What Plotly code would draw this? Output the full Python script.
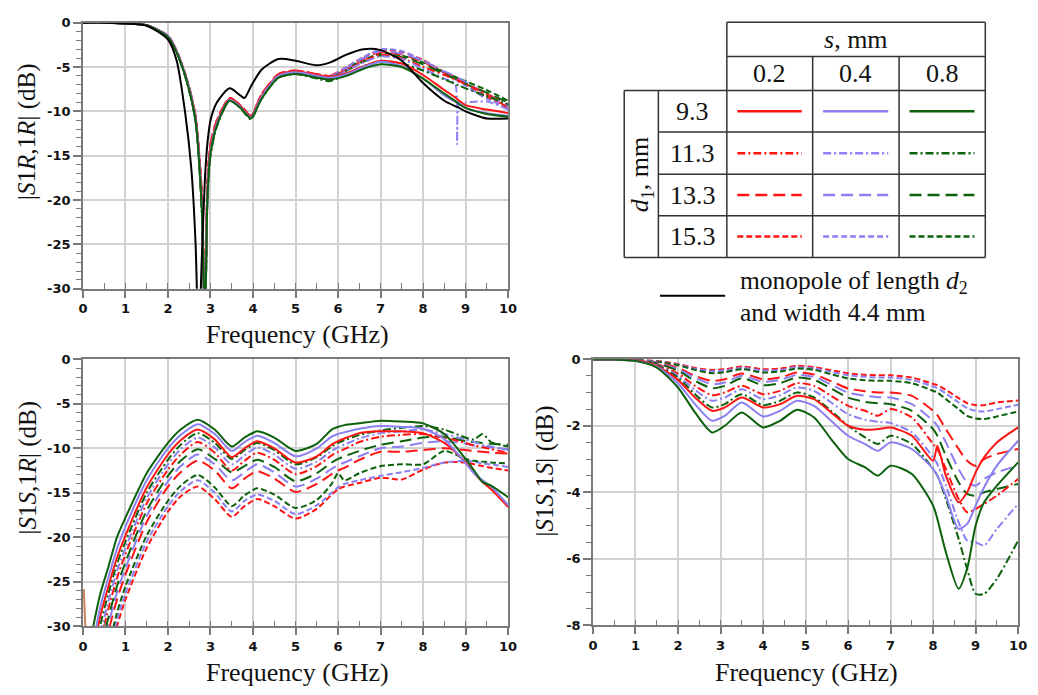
import plotly.graph_objects as go

W, H = 1038, 695

# ---------------- |S1R,1R| (top-left) ----------------
FREQ_A = [0, 0.5, 1, 1.5, 2, 2.2, 2.4, 2.55, 2.65, 2.72, 2.8, 2.87, 2.93, 3.0, 3.15, 3.45,
          3.7, 3.8, 3.95, 4.2, 4.6, 5.0, 5.5, 5.8, 6.2, 6.6, 7.0, 7.5, 8.0, 8.5, 8.75, 8.8,
          8.85, 9.0, 9.5, 10]

RR_S02_D93 = [0, 0, -0.1, -0.3, -1.5, -3.2, -5.8, -8.4, -10.8, -14.3, -20.5, -34, -18.5, -14.2, -11.3, -8.6,
              -9.4, -9.9, -10.6, -8.3, -5.9, -5.5, -5.9, -6.1, -5.7, -4.9, -4.3, -4.6, -5.9, -7.6, -8.4, -8.6,
              -8.8, -9.3, -9.8, -10.2]
RR_S04_D93 = [0, 0, -0.1, -0.3, -1.5, -3.2, -5.8, -8.4, -10.9, -14.5, -21, -34, -19, -14.5, -11.4, -8.7,
              -9.5, -10.0, -10.7, -8.4, -6.0, -5.6, -6.0, -6.2, -5.8, -5.0, -4.4, -4.9, -6.3, -8.2, -8.9, -9.0,
              -9.1, -9.6, -10.2, -10.5]
RR_S08_D93 = [0, 0, -0.1, -0.3, -1.6, -3.3, -5.9, -8.6, -11.1, -14.8, -21.5, -34, -19.5, -14.8, -11.6, -8.8,
              -9.6, -10.1, -10.8, -8.6, -6.2, -5.8, -6.2, -6.4, -6.0, -5.2, -4.7, -5.0, -6.3, -8.0, -8.8, -9.0,
              -9.2, -9.6, -10.3, -10.6]
RR_S02_D113 = [0, 0, -0.1, -0.3, -1.5, -3.2, -5.8, -8.3, -10.7, -14.2, -20, -34, -18, -14, -11.2, -8.6,
               -9.4, -9.9, -10.6, -8.2, -5.9, -5.5, -6.0, -6.3, -5.3, -4.4, -3.6, -4.0, -5.0, -5.9, -6.4, -6.5,
               -6.6, -6.9, -8.1, -9.6]
RR_S04_D113 = [0, 0, -0.1, -0.3, -1.5, -3.2, -5.8, -8.4, -10.9, -14.6, -21, -34, -19, -14.6, -11.5, -8.7,
               -9.5, -10.0, -10.8, -8.4, -6.0, -5.6, -6.1, -6.4, -5.4, -4.5, -3.8, -4.1, -5.2, -6.3, -6.9, -13.7,
               -9.0, -9.0, -8.9, -9.8]
RR_S08_D113 = [0, 0, -0.1, -0.3, -1.6, -3.3, -6.0, -8.7, -11.2, -15, -22, -34, -20, -15, -11.7, -8.8,
               -9.6, -10.2, -10.9, -8.6, -6.2, -5.8, -6.3, -6.6, -5.8, -4.9, -4.4, -4.6, -5.4, -6.4, -6.9, -7.0,
               -7.1, -7.4, -8.3, -9.2]
RR_S02_D133 = [0, 0, -0.1, -0.3, -1.5, -3.1, -5.7, -8.2, -10.6, -14, -19.5, -34, -18, -13.8, -11.0, -8.5,
               -9.3, -9.8, -10.5, -8.1, -5.8, -5.4, -5.8, -6.0, -5.2, -4.1, -3.3, -3.6, -4.4, -5.6, -6.1, -6.2,
               -6.4, -6.8, -8.0, -9.3]
RR_S04_D133 = [0, 0, -0.1, -0.3, -1.5, -3.2, -5.8, -8.3, -10.8, -14.2, -20, -34, -18.5, -14.1, -11.2, -8.6,
               -9.4, -9.9, -10.6, -8.2, -5.9, -5.5, -5.9, -6.1, -5.1, -4.0, -3.2, -3.5, -4.3, -5.5, -6.0, -6.1,
               -6.3, -6.7, -8.1, -9.4]
RR_S08_D133 = [0, 0, -0.1, -0.3, -1.6, -3.3, -5.9, -8.5, -11.0, -14.6, -21, -34, -19.5, -14.6, -11.5, -8.7,
               -9.5, -10.0, -10.7, -8.5, -6.1, -5.7, -6.1, -6.3, -5.4, -4.4, -3.7, -3.9, -4.7, -5.8, -6.3, -6.4,
               -6.5, -6.9, -7.9, -9.0]
RR_S02_D153 = [0, 0, -0.1, -0.3, -1.5, -3.1, -5.7, -8.2, -10.6, -13.9, -19.5, -34, -17.5, -13.6, -11.0, -8.5,
               -9.3, -9.8, -10.5, -8.1, -5.8, -5.4, -5.8, -6.0, -5.0, -3.9, -3.1, -3.3, -4.2, -5.6, -6.2, -6.3,
               -6.5, -7.0, -8.4, -9.7]
RR_S04_D153 = [0, 0, -0.1, -0.3, -1.5, -3.2, -5.8, -8.3, -10.7, -14.1, -20, -34, -18, -13.9, -11.1, -8.6,
               -9.4, -9.9, -10.6, -8.2, -5.9, -5.5, -5.9, -6.1, -5.0, -3.9, -3.0, -3.2, -4.3, -5.7, -6.4, -6.5,
               -6.7, -7.1, -8.6, -9.5]
RR_S08_D153 = [0, 0, -0.1, -0.3, -1.6, -3.3, -5.9, -8.5, -10.9, -14.5, -21, -34, -19, -14.4, -11.4, -8.7,
               -9.5, -10.0, -10.7, -8.4, -6.1, -5.7, -6.1, -6.3, -5.2, -4.2, -3.5, -3.7, -4.5, -5.6, -6.1, -6.2,
               -6.3, -6.6, -7.6, -8.8]
RR_MONOPOLE = [0, 0, -0.1, -0.35, -1.9, -4.2, -10, -16.5, -25, -36, -26, -17.5, -13.5, -11, -9.0, -7.4,
               -8.2, -8.5, -7.2, -5.3, -4.1, -4.3, -4.8, -4.5, -3.6, -3.0, -3.1, -4.3, -6.8, -8.8, -9.4, -9.5,
               -9.6, -10.0, -10.8, -10.8]

# ---------------- |S1S,1R| (bottom-left) ----------------
FREQ_B = [0.2, 0.4, 0.6, 0.8, 1.0, 1.5, 2.0, 2.3, 2.7, 3.1, 3.5, 3.8, 4.1, 4.5, 5.0, 5.5, 5.85, 6.0,
          6.15, 6.5, 7.0, 7.5, 8.0, 8.5, 9.0, 9.2, 9.4, 9.6, 10]

SR_S08_D93 = [-31, -26.5, -23.3, -20.0, -17.8, -12.8, -9.4, -7.9, -6.8, -7.9, -9.8, -8.8, -8.1, -8.8, -10.3,
              -9.5, -7.9, -7.6, -7.4, -7.2, -6.9, -7.0, -7.2, -8.4, -11.2, -12.5, -13.8, -14.2, -15.5]
SR_S04_D93 = [-33, -28, -24.5, -21.3, -18.8, -13.6, -10.0, -8.5, -7.3, -8.4, -10.3, -9.3, -8.6, -9.4, -10.9,
              -10.0, -8.7, -8.4, -8.2, -7.8, -7.5, -7.6, -7.8, -9.0, -11.7, -12.8, -13.6, -14.3, -16.4]
SR_S02_D93 = [-34, -29, -25.5, -22.3, -19.8, -14.4, -10.7, -9.1, -7.9, -9.0, -11.0, -10.0, -9.2, -10.0, -11.6,
              -10.9, -9.6, -9.2, -8.9, -8.3, -8.1, -8.1, -8.3, -9.4, -11.6, -12.8, -13.8, -14.6, -16.6]
SR_S08_D113 = [-35, -30, -26.3, -23.0, -20.5, -15.0, -11.3, -9.6, -8.3, -9.4, -11.2, -10.2, -9.4, -10.2, -11.8,
               -11.0, -9.8, -9.4, -9.1, -8.5, -8.0, -7.7, -7.5, -7.9, -8.8, -9.0, -8.4, -9.3, -9.8]
SR_S04_D113 = [-36, -31, -27.2, -23.8, -21.2, -15.6, -11.8, -10.1, -8.8, -9.9, -11.8, -10.8, -9.9, -10.7, -12.3,
               -11.5, -10.3, -9.9, -9.6, -8.9, -8.3, -8.1, -7.9, -8.4, -9.0, -9.3, -9.6, -9.8, -10.2]
SR_S02_D113 = [-37, -32, -28.0, -24.6, -21.9, -16.2, -12.4, -10.7, -9.3, -10.5, -12.5, -11.4, -10.5, -11.3, -12.9,
               -12.0, -10.8, -10.4, -10.1, -9.3, -8.7, -8.5, -8.4, -8.8, -9.4, -9.7, -9.9, -10.1, -10.5]
SR_S08_D133 = [-38, -33, -29.0, -25.5, -22.8, -17.0, -13.1, -11.4, -10.1, -11.2, -12.7, -12.0, -11.3, -12.1, -13.7,
               -12.8, -11.6, -11.2, -10.9, -10.3, -9.6, -9.2, -8.8, -8.7, -9.2, -9.3, -9.4, -9.5, -9.6]
SR_S04_D133 = [-39, -34, -29.8, -26.2, -23.5, -17.6, -13.7, -12.0, -10.7, -11.8, -13.6, -12.7, -11.8, -12.7, -14.3,
               -13.4, -12.3, -11.9, -11.6, -10.9, -10.0, -9.8, -9.4, -9.2, -9.5, -9.7, -9.8, -9.9, -10.1]
SR_S02_D133 = [-40, -35, -30.6, -27.0, -24.2, -18.3, -14.3, -12.7, -11.4, -12.5, -14.5, -13.4, -12.6, -13.4, -14.9,
               -14.0, -12.9, -12.5, -12.2, -11.3, -10.4, -10.4, -10.2, -10.0, -10.2, -10.3, -10.4, -10.5, -10.6]
SR_S08_D153 = [-42, -37, -32.5, -28.5, -25.5, -19.8, -15.9, -14.2, -13.0, -14.4, -16.5, -15.3, -14.5, -15.2, -16.7,
               -15.8, -14.0, -12.8, -13.6, -12.8, -12.0, -11.8, -11.8, -10.3, -11.2, -11.4, -11.5, -11.6, -11.7]
SR_S04_D153 = [-43, -38, -33.3, -29.3, -26.3, -20.5, -16.5, -14.8, -13.6, -15.0, -17.1, -15.9, -15.2, -15.9, -17.4,
               -16.4, -15.0, -14.4, -14.0, -13.6, -13.1, -12.7, -12.2, -11.6, -11.4, -11.5, -11.7, -11.8, -12.1]
SR_S02_D153 = [-44, -39, -34.0, -30.0, -27.0, -21.2, -17.1, -15.4, -14.3, -15.7, -17.7, -16.5, -15.7, -16.5, -17.9,
               -16.8, -15.2, -14.6, -14.3, -13.9, -13.3, -13.5, -12.4, -11.6, -11.6, -11.8, -12.0, -12.2, -12.5]
SR_EDGE_F = [0.02, 0.06]
SR_EDGE_V = [-25.8, -30.5]

# ---------------- |S1S,1S| (bottom-right) ----------------
FREQ_C = [0, 0.5, 1.0, 1.5, 2.0, 2.4, 2.8, 3.1, 3.5, 4.0, 4.4, 4.8, 5.2, 5.6, 6.0, 6.4, 6.7, 7.0,
          7.5, 8.0, 8.1, 8.3, 8.6, 8.8, 9.0, 9.2, 9.5, 10]

SS_S08_D93 = [0, -0.01, -0.05, -0.25, -0.85, -1.6, -2.2, -2.0, -1.6, -2.05, -1.85, -1.52, -1.75, -2.4, -3.0,
              -3.25, -3.5, -3.2, -3.45, -4.4, -4.8, -5.8, -6.9, -6.3, -5.0, -4.3, -3.8, -3.1]
SS_S04_D93 = [0, -0.01, -0.05, -0.22, -0.72, -1.35, -1.85, -1.7, -1.3, -1.72, -1.55, -1.25, -1.4, -1.85, -2.3,
              -2.55, -2.75, -2.5, -2.7, -3.3, -3.5, -4.1, -5.1, -4.95, -4.4, -3.85, -3.2, -2.45]
SS_S02_D93 = [0, -0.01, -0.04, -0.2, -0.62, -1.15, -1.55, -1.45, -1.15, -1.45, -1.35, -1.1, -1.2, -1.6, -2.0,
              -2.12, -2.1, -2.05, -2.3, -3.05, -2.6, -3.5, -4.3, -4.0, -3.4, -2.95, -2.5, -2.05]
SS_S08_D113 = [0, -0.01, -0.04, -0.18, -0.55, -1.05, -1.45, -1.35, -1.05, -1.38, -1.25, -1.0, -1.15, -1.55, -2.0,
               -2.35, -2.55, -2.3, -2.55, -3.3, -3.5, -4.2, -5.4, -6.3, -7.05, -7.05, -6.6, -5.45]
SS_S04_D113 = [0, -0.01, -0.03, -0.16, -0.5, -0.92, -1.25, -1.15, -0.9, -1.2, -1.08, -0.85, -0.95, -1.3, -1.65,
               -1.82, -1.88, -1.92, -2.2, -2.95, -3.15, -3.8, -4.9, -5.45, -5.5, -5.6, -5.1, -4.35]
SS_S02_D113 = [0, -0.01, -0.03, -0.14, -0.43, -0.8, -1.08, -1.0, -0.8, -1.05, -0.95, -0.72, -0.8, -1.1, -1.4,
               -1.55, -1.7, -1.5, -1.75, -2.55, -2.7, -3.3, -4.2, -4.6, -4.5, -4.35, -4.1, -3.6]
SS_S08_D133 = [0, -0.01, -0.03, -0.12, -0.35, -0.65, -0.87, -0.8, -0.57, -0.78, -0.72, -0.55, -0.62, -0.88, -1.15,
               -1.28, -1.32, -1.35, -1.55, -2.1, -2.3, -2.9, -3.7, -4.05, -4.1, -4.0, -3.9, -3.75]
SS_S04_D133 = [0, -0.01, -0.02, -0.1, -0.3, -0.56, -0.75, -0.7, -0.5, -0.68, -0.62, -0.47, -0.53, -0.76, -1.0,
               -1.1, -1.14, -1.15, -1.35, -1.85, -2.0, -2.5, -3.3, -3.7, -3.8, -3.6, -3.4, -3.2]
SS_S02_D133 = [0, -0.01, -0.02, -0.09, -0.26, -0.5, -0.65, -0.6, -0.43, -0.6, -0.55, -0.4, -0.46, -0.66, -0.88,
               -0.96, -1.0, -1.0, -1.1, -1.55, -1.68, -2.1, -2.7, -3.05, -3.2, -3.0, -2.85, -2.7]
SS_S08_D153 = [0, -0.01, -0.02, -0.07, -0.18, -0.32, -0.42, -0.39, -0.3, -0.4, -0.37, -0.28, -0.32, -0.45, -0.58,
               -0.63, -0.65, -0.65, -0.72, -0.95, -1.0, -1.2, -1.5, -1.7, -1.78, -1.8, -1.72, -1.57]
SS_S04_D153 = [0, -0.01, -0.02, -0.06, -0.16, -0.29, -0.36, -0.34, -0.26, -0.34, -0.32, -0.24, -0.28, -0.38, -0.48,
               -0.53, -0.55, -0.55, -0.62, -0.82, -0.87, -1.03, -1.3, -1.47, -1.55, -1.57, -1.5, -1.37]
SS_S02_D153 = [0, -0.01, -0.02, -0.05, -0.14, -0.26, -0.32, -0.3, -0.22, -0.3, -0.28, -0.2, -0.24, -0.33, -0.42,
               -0.47, -0.48, -0.48, -0.55, -0.74, -0.78, -0.92, -1.17, -1.32, -1.38, -1.38, -1.3, -1.24]

# ---------------- ticks and legend labels ----------------
X_TICKS = [0, 1, 2, 3, 4, 5, 6, 7, 8, 9, 10]
X_TICK_TEXT = ["0", "1", "2", "3", "4", "5", "6", "7", "8", "9", "10"]
Y_TICKS_DB30 = [0, -5, -10, -15, -20, -25, -30]
Y_TICK_TEXT_DB30 = ["0", "-5", "-10", "-15", "-20", "-25", "-30"]
Y_TICKS_DB8 = [0, -2, -4, -6, -8]
Y_TICK_TEXT_DB8 = ["0", "-2", "-4", "-6", "-8"]
S_VALUES = ["0.2", "0.4", "0.8"]
D1_VALUES = ["9.3", "11.3", "13.3", "15.3"]

RED = "#ff1414"
BLUE = "#8a80f2"
GREEN = "#0b610b"
S_COLORS = {"0.2": RED, "0.4": BLUE, "0.8": GREEN}
D1_DASH = {"9.3": "solid", "11.3": "8px,3px,2px,3px", "13.3": "12px,6px", "15.3": "6px,3px"}

SERIES_A = {
    ("0.2", "9.3"): RR_S02_D93, ("0.4", "9.3"): RR_S04_D93, ("0.8", "9.3"): RR_S08_D93,
    ("0.2", "11.3"): RR_S02_D113, ("0.4", "11.3"): RR_S04_D113, ("0.8", "11.3"): RR_S08_D113,
    ("0.2", "13.3"): RR_S02_D133, ("0.4", "13.3"): RR_S04_D133, ("0.8", "13.3"): RR_S08_D133,
    ("0.2", "15.3"): RR_S02_D153, ("0.4", "15.3"): RR_S04_D153, ("0.8", "15.3"): RR_S08_D153,
}
SERIES_B = {
    ("0.2", "9.3"): SR_S02_D93, ("0.4", "9.3"): SR_S04_D93, ("0.8", "9.3"): SR_S08_D93,
    ("0.2", "11.3"): SR_S02_D113, ("0.4", "11.3"): SR_S04_D113, ("0.8", "11.3"): SR_S08_D113,
    ("0.2", "13.3"): SR_S02_D133, ("0.4", "13.3"): SR_S04_D133, ("0.8", "13.3"): SR_S08_D133,
    ("0.2", "15.3"): SR_S02_D153, ("0.4", "15.3"): SR_S04_D153, ("0.8", "15.3"): SR_S08_D153,
}
SERIES_C = {
    ("0.2", "9.3"): SS_S02_D93, ("0.4", "9.3"): SS_S04_D93, ("0.8", "9.3"): SS_S08_D93,
    ("0.2", "11.3"): SS_S02_D113, ("0.4", "11.3"): SS_S04_D113, ("0.8", "11.3"): SS_S08_D113,
    ("0.2", "13.3"): SS_S02_D133, ("0.4", "13.3"): SS_S04_D133, ("0.8", "13.3"): SS_S08_D133,
    ("0.2", "15.3"): SS_S02_D153, ("0.4", "15.3"): SS_S04_D153, ("0.8", "15.3"): SS_S08_D153,
}


def px(x):
    return x / W


def py(y):
    return 1 - y / H


def bold(labels):
    return ["<b>%s</b>" % t for t in labels]


fig = go.Figure()


def add_family(freq, series, xa, ya):
    for d1 in reversed(D1_VALUES):
        for s in S_VALUES:
            fig.add_trace(go.Scatter(
                x=freq, y=series[(s, d1)], xaxis=xa, yaxis=ya, mode="lines",
                line=dict(color=S_COLORS[s], width=2, dash=D1_DASH[d1], shape="spline", smoothing=0.7),
                showlegend=False, hoverinfo="skip"))


add_family(FREQ_A, SERIES_A, "x", "y")
fig.add_trace(go.Scatter(x=FREQ_A, y=RR_MONOPOLE, xaxis="x", yaxis="y", mode="lines",
                         line=dict(color="black", width=2, shape="spline", smoothing=0.7),
                         showlegend=False, hoverinfo="skip"))
add_family(FREQ_B, SERIES_B, "x2", "y2")
fig.add_trace(go.Scatter(x=SR_EDGE_F, y=SR_EDGE_V, xaxis="x2", yaxis="y2", mode="lines",
                         line=dict(color="#c8825a", width=2), showlegend=False, hoverinfo="skip"))
add_family(FREQ_C, SERIES_C, "x3", "y3")

FRAME = "#7a7a7a"
GRID = "#d2d2d2"
TICKFONT = dict(family="DejaVu Sans", size=13, color="#111111")


def x_axis(domain, anchor):
    return dict(domain=domain, anchor=anchor, range=[0, 10], tickvals=X_TICKS, ticktext=bold(X_TICK_TEXT),
                showgrid=True, gridcolor=GRID, gridwidth=1.5, showline=True, linecolor=FRAME,
                linewidth=1.5, mirror=True, ticks="outside", ticklen=7, tickwidth=1.5, tickcolor=FRAME,
                tickfont=TICKFONT, zeroline=False, fixedrange=True,
                minor=dict(ticks="inside", dtick=0.5, ticklen=6, tickwidth=1.3, tickcolor=FRAME, showgrid=False))


def y_axis(domain, anchor, rng, vals, text, minor_step):
    return dict(domain=domain, anchor=anchor, range=rng, tickvals=vals, ticktext=bold(text),
                showgrid=True, gridcolor=GRID, gridwidth=1.5, showline=True, linecolor=FRAME,
                linewidth=1.5, mirror=True, ticks="outside", ticklen=8, tickwidth=1.5, tickcolor=FRAME,
                tickfont=TICKFONT, zeroline=False, fixedrange=True,
                minor=dict(ticks="outside", dtick=minor_step, ticklen=5, tickwidth=1.3, tickcolor=FRAME,
                           showgrid=False))


fig.update_layout(
    width=W, height=H, margin=dict(l=0, r=0, t=0, b=0),
    paper_bgcolor="white", plot_bgcolor="white", showlegend=False,
    xaxis=x_axis([px(79), px(510)], "y"),
    yaxis=y_axis([py(288), py(16)], "x", [-30, 0], Y_TICKS_DB30, Y_TICK_TEXT_DB30, 1),
    xaxis2=x_axis([px(79), px(510)], "y2"),
    yaxis2=y_axis([py(633), py(360)], "x2", [-30, 0], Y_TICKS_DB30, Y_TICK_TEXT_DB30, 1),
    xaxis3=x_axis([px(596), px(1027)], "y3"),
    yaxis3=y_axis([py(632), py(360)], "x3", [-8, 0], Y_TICKS_DB8, Y_TICK_TEXT_DB8, 0.5),
)

SERIF = "Liberation Serif"
annotations = []


def label(text, x, y, size=26, angle=0, xanchor="center", yanchor="middle"):
    annotations.append(dict(text=text, x=px(x), y=py(y), xref="paper", yref="paper", showarrow=False,
                            textangle=angle, xanchor=xanchor, yanchor=yanchor,
                            font=dict(family=SERIF, size=size, color="#111111")))


# axis titles
for cx, cy in [(296, 335), (296, 680), (812, 680)]:
    label("Frequency (GHz)", cx, cy)
label("|<i>S</i>1<i>R</i>,1<i>R</i>| (dB)", 23, 128, size=25, angle=-90)
label("|<i>S</i>1<i>S</i>,1<i>R</i>| (dB)", 23, 471, size=25, angle=-90)
label("|<i>S</i>1<i>S</i>,1<i>S</i>| (dB)", 547, 474, size=25, angle=-90)

# legend table
TX = [627.7, 662.3, 731.7, 818.7, 906.3, 993.7]
TY = [15.7, 50.7, 85.3, 127.7, 171.0, 213.3, 256.0]
shapes = []


def seg(x0, y0, x1, y1, color="#333333", width=1.5, dash="solid"):
    shapes.append(dict(type="line", xref="paper", yref="paper", x0=px(x0), y0=py(y0), x1=px(x1), y1=py(y1),
                       line=dict(color=color, width=width, dash=dash)))


seg(TX[2], TY[0], TX[5], TY[0])
seg(TX[2], TY[1], TX[5], TY[1])
seg(TX[0], TY[2], TX[5], TY[2])
for yy in TY[3:6]:
    seg(TX[1], yy, TX[5], yy)
seg(TX[0], TY[6], TX[5], TY[6])
seg(TX[0], TY[2], TX[0], TY[6])
seg(TX[1], TY[2], TX[1], TY[6])
seg(TX[2], TY[0], TX[2], TY[6])
seg(TX[3], TY[1], TX[3], TY[6])
seg(TX[4], TY[1], TX[4], TY[6])
seg(TX[5], TY[0], TX[5], TY[6])

label("<i>s</i>, mm", (TX[2] + TX[5]) / 2, (TY[0] + TY[1]) / 2)
for i, s in enumerate(S_VALUES):
    label(s, (TX[2 + i] + TX[3 + i]) / 2, (TY[1] + TY[2]) / 2)
for j, d1 in enumerate(D1_VALUES):
    yc = (TY[2 + j] + TY[3 + j]) / 2
    label(d1, (TX[1] + TX[2]) / 2, yc)
    for i, s in enumerate(S_VALUES):
        seg(TX[2 + i] + 10.6, yc, TX[3 + i] - 11, yc, color=S_COLORS[s], width=2.5, dash=D1_DASH[d1])
label("<i>d</i><sub>1</sub>, mm", (TX[0] + TX[1]) / 2, (TY[2] + TY[6]) / 2, angle=-90)

seg(664, 295, 730, 295, color="black", width=2)
label("monopole of length <i>d</i><sub>2</sub>", 743, 281, size=25.5, xanchor="left")
label("and width 4.4 mm", 743, 312, size=25.5, xanchor="left")

fig.update_layout(annotations=annotations, shapes=shapes)
fig.write_html("out.html")
